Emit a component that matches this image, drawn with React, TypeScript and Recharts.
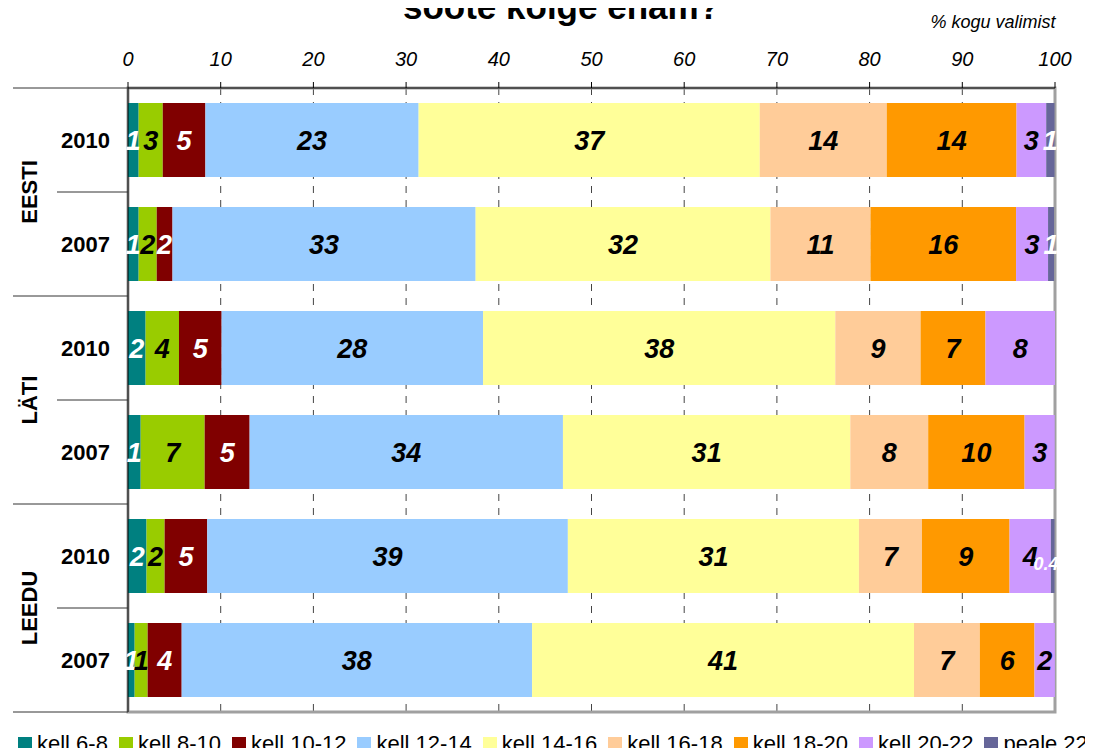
import React from 'react';
import {BarChart, Bar, XAxis, YAxis, CartesianGrid, LabelList, Legend, ReferenceArea} from 'recharts';

const FONT = '"Liberation Sans", Arial, sans-serif';

// rows, top to bottom
const rowCountry = ['EESTI', 'EESTI', 'LÄTI', 'LÄTI', 'LEEDU', 'LEEDU'];
const rowYear = ['2010', '2007', '2010', '2007', '2010', '2007'];

// % kogu valimist
const kell6_8 = [1.15, 1.15, 1.9, 1.37, 2.0, 0.72];
const kell8_10 = [2.6, 1.95, 3.6, 6.9, 1.95, 1.4];
const kell10_12 = [4.6, 1.7, 4.6, 4.85, 4.6, 3.67];
const kell12_14 = [23.0, 32.7, 28.2, 33.8, 38.9, 37.8];
const kell14_16 = [36.8, 31.8, 38.0, 31.0, 31.4, 41.2];
const kell16_18 = [13.7, 10.8, 9.2, 8.4, 6.8, 7.1];
const kell18_20 = [14.0, 15.7, 7.0, 10.4, 9.45, 5.9];
const kell20_22 = [3.2, 3.45, 7.5, 3.25, 4.45, 2.2];
const peale22 = [0.9, 0.65, 0, 0, 0.4, 0];

const xTicks = [0, 10, 20, 30, 40, 50, 60, 70, 80, 90, 100];

const series = [
    {key: 'kell 6-8', values: kell6_8, color: '#008080', text: '#fff'},
    {key: 'kell 8-10', values: kell8_10, color: '#99CC00', text: '#000'},
    {key: 'kell 10-12', values: kell10_12, color: '#800000', text: '#fff'},
    {key: 'kell 12-14', values: kell12_14, color: '#99CCFF', text: '#000'},
    {key: 'kell 14-16', values: kell14_16, color: '#FFFF99', text: '#000'},
    {key: 'kell 16-18', values: kell16_18, color: '#FFCC99', text: '#000'},
    {key: 'kell 18-20', values: kell18_20, color: '#FF9900', text: '#000'},
    {key: 'kell 20-22', values: kell20_22, color: '#CC99FF', text: '#000'},
    {key: 'peale 22', values: peale22, color: '#666699', text: '#fff'},
];

const rows = rowYear.map((year, i) => {
    const row: any = {id: `${rowCountry[i]} ${year}`, year, country: rowCountry[i]};
    series.forEach(s => { row[s.key] = s.values[i]; });
    return row;
});

const makeLabel = (color: string) => (props: any) => {
    const {x, y, width, height, value} = props;
    if (!value) return null;
    if (value < 0.5) {
        // tiny segment, small label hanging off to the lower left
        return (
            <text x={x + width + 4} y={y + height / 2 + 8} dy="0.36em" textAnchor="end"
                  fill={color} fontSize={18} fontWeight="bold" fontStyle="italic" fontFamily={FONT}>
                {value.toFixed(1)}
            </text>
        );
    }
    return (
        <text x={x + width / 2} y={y + height / 2} dy="0.36em" textAnchor="middle"
              fill={color} fontSize={27} fontWeight="bold" fontStyle="italic" fontFamily={FONT}>
            {Math.round(value)}
        </text>
    );
};

const RowTick = (props: any) => {
    const {x, y, payload, index} = props;
    const half = payload && payload.offset ? payload.offset : 52;
    const i = index ?? 0;
    const firstInGroup = i % 2 === 0;
    return (
        <g>
            <line x1={firstInGroup ? x - 115 : x - 71} x2={x} y1={y - half} y2={y - half} stroke="#333"/>
            {i === rows.length - 1 &&
                <line x1={x - 115} x2={x} y1={y + half} y2={y + half} stroke="#333"/>}
            <text x={x - 18} y={y} dy="0.36em" textAnchor="end" fontSize={22} fontWeight="bold"
                  fill="#000" fontFamily={FONT}>
                {rows[i].year}
            </text>
            {firstInGroup &&
                <text x={x - 99} y={y + half} dy="0.36em" textAnchor="middle" fontSize={22}
                      fontWeight="bold" fill="#000" fontFamily={FONT}
                      transform={`rotate(-90, ${x - 99}, ${y + half})`}>
                    {rows[i].country}
                </text>}
        </g>
    );
};

const LegendRow = () => (
    <div style={{display: 'flex', flexWrap: 'nowrap', alignItems: 'center', whiteSpace: 'nowrap',
        height: 20, fontSize: 22, lineHeight: '20px', fontFamily: FONT, color: '#000'}}>
        {series.map(s => (
            <div key={s.key} style={{display: 'flex', alignItems: 'center', marginRight: 11, height: 20}}>
                <span style={{display: 'block', width: 14, height: 14, background: s.color, marginRight: 5}}/>
                <span style={{display: 'block', lineHeight: '20px'}}>{s.key}</span>
            </div>
        ))}
    </div>
);

const App = () => {
    return (
        <div style={{position: 'relative', width: 1093, height: 756, margin: -8, fontFamily: FONT, overflow: 'hidden'}}>
            <div style={{position: 'absolute', left: 0, width: 1123, top: -11, textAlign: 'center',
                fontSize: 35, lineHeight: '35px', fontWeight: 'bold', whiteSpace: 'nowrap'}}>
                sööte kõige enam?
            </div>
            <div style={{position: 'absolute', left: 893, width: 200, top: 13, textAlign: 'center',
                fontSize: 18, lineHeight: '18px', fontStyle: 'italic'}}>
                % kogu valimist
            </div>
            <BarChart
                width={1093}
                height={756}
                data={rows}
                layout="vertical"
                barSize={74}
                margin={{top: 48, right: 38, bottom: 24, left: 0}}
            >
                <CartesianGrid horizontal={false} stroke="#444" strokeDasharray="7 7"/>
                <XAxis
                    type="number"
                    orientation="top"
                    domain={[0, 100]}
                    ticks={xTicks}
                    allowDataOverflow
                    height={40}
                    tickSize={6}
                    tickMargin={16}
                    axisLine={{stroke: '#000'}}
                    tickLine={{stroke: '#000'}}
                    tick={{fontSize: 20, fontStyle: 'italic', fill: '#000', fontFamily: FONT}}
                />
                <YAxis
                    type="category"
                    dataKey="id"
                    width={128}
                    interval={0}
                    tickLine={false}
                    tickSize={0}
                    tickMargin={0}
                    axisLine={{stroke: '#000'}}
                    tick={<RowTick/>}
                />
                {series.map(s => (
                    <Bar key={s.key} dataKey={s.key} stackId="a" fill={s.color} isAnimationActive={false}>
                        <LabelList dataKey={s.key} content={makeLabel(s.text)}/>
                    </Bar>
                ))}
                <ReferenceArea x1={0} x2={100} fill="none" stroke="#A0A0A0" strokeWidth={3}/>
                <Legend
                    verticalAlign="bottom"
                    content={<LegendRow/>}
                    wrapperStyle={{top: 734, left: 18, width: 1075, height: 20}}
                />
            </BarChart>
        </div>
    );
};

export default App;
